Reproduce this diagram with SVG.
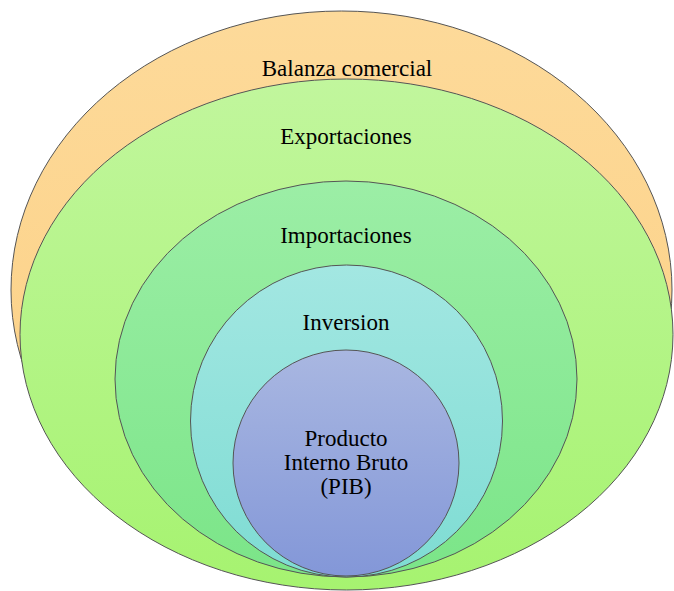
<svg xmlns="http://www.w3.org/2000/svg" width="674" height="591" viewBox="0 0 674 591">
<defs>
<linearGradient id="gOr" x1="0" y1="0" x2="0" y2="1"><stop offset="0" stop-color="#FDDA9A"/><stop offset="1" stop-color="#FCCF82"/></linearGradient>
<linearGradient id="gLg" x1="0" y1="0" x2="0" y2="1"><stop offset="0" stop-color="#C1F69D"/><stop offset="1" stop-color="#A6F370"/></linearGradient>
<linearGradient id="gMg" x1="0" y1="0" x2="0" y2="1"><stop offset="0" stop-color="#9CEEA6"/><stop offset="1" stop-color="#7BE588"/></linearGradient>
<linearGradient id="gCy" x1="0" y1="0" x2="0" y2="1"><stop offset="0" stop-color="#A3E7E2"/><stop offset="1" stop-color="#7EDCD3"/></linearGradient>
<linearGradient id="gBl" x1="0" y1="0" x2="0" y2="1"><stop offset="0" stop-color="#A9B7E1"/><stop offset="1" stop-color="#8397D8"/></linearGradient>
</defs>
<style>
.sh{stroke:#555;stroke-width:1}
.t{font-family:"Liberation Serif","Times New Roman",serif;font-size:23px;fill:#000;text-anchor:middle}
</style>
<rect width="674" height="591" fill="#fff"/>
<g id="balanza">
<ellipse class="sh" cx="341.5" cy="290" rx="330.5" ry="279" fill="url(#gOr)"/>
<text class="t" x="347" y="76">Balanza comercial</text>
</g>
<g id="exportaciones">
<ellipse class="sh" cx="346.5" cy="334.5" rx="326.5" ry="255.5" fill="url(#gLg)"/>
<text class="t" x="346" y="144">Exportaciones</text>
</g>
<g id="importaciones">
<ellipse class="sh" cx="346" cy="379" rx="231" ry="198" fill="url(#gMg)"/>
<text class="t" x="346" y="243">Importaciones</text>
</g>
<g id="inversion">
<ellipse class="sh" cx="346.5" cy="421" rx="156" ry="156" fill="url(#gCy)"/>
<text class="t" x="346" y="330">Inversion</text>
</g>
<g id="pib">
<ellipse class="sh" cx="346" cy="463" rx="113" ry="113" fill="url(#gBl)"/>
<text class="t" x="346" y="446">Producto</text>
<text class="t" x="346" y="470">Interno Bruto</text>
<text class="t" x="346" y="494">(PIB)</text>
</g>
<g id="connectors"/>
</svg>
